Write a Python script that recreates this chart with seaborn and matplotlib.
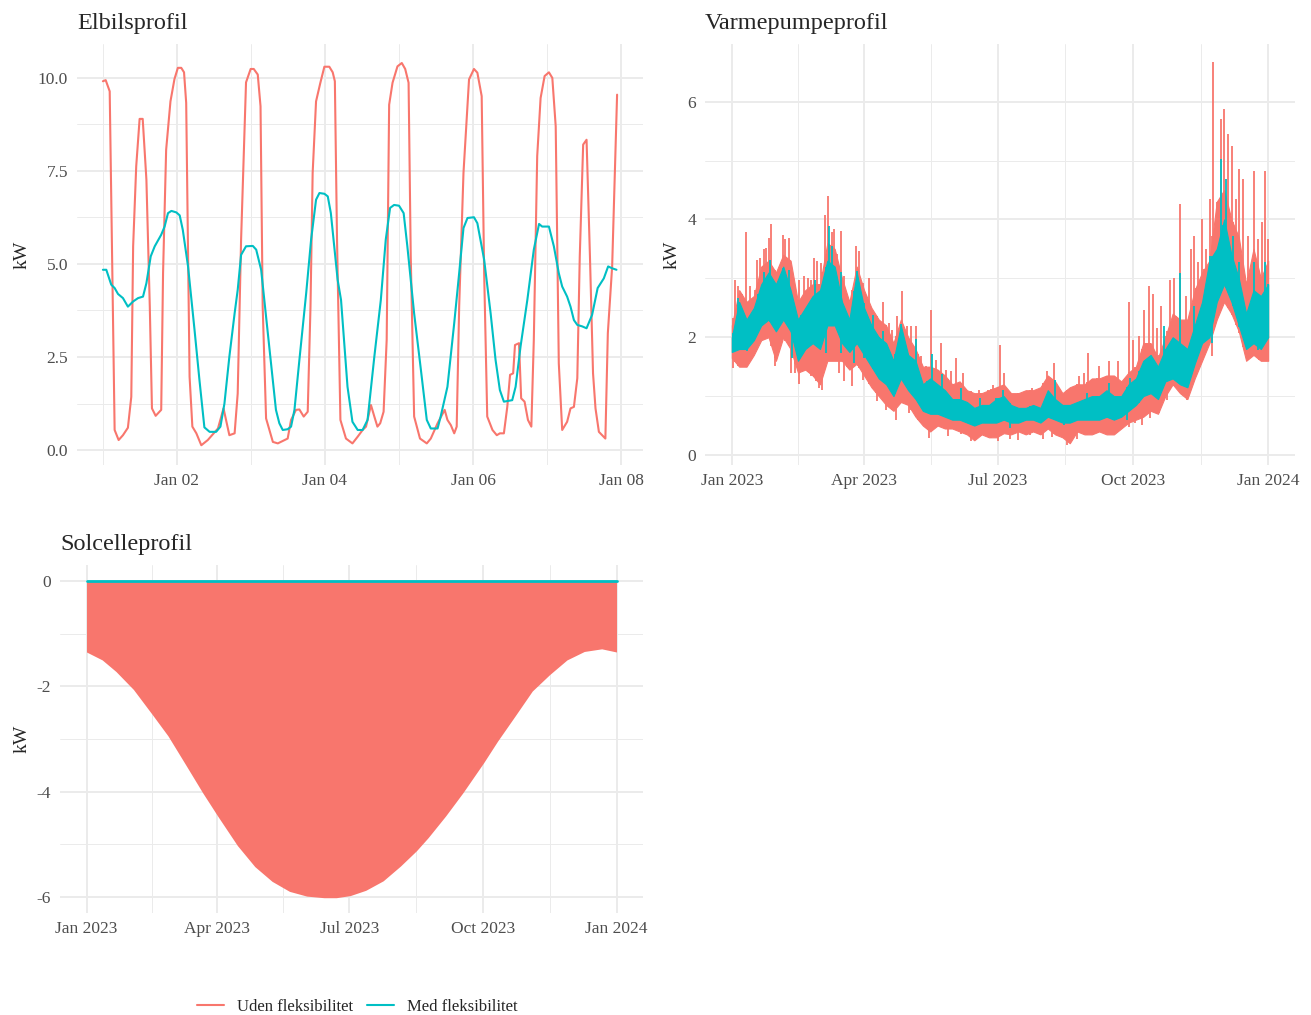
import numpy as np
import pandas as pd
import matplotlib
matplotlib.use("Agg")
import matplotlib.pyplot as plt
import matplotlib.dates as mdates
from matplotlib.lines import Line2D
import seaborn as sns

RED = "#F8766D"
TEAL = "#00BFC4"
GRID = "#EBEBEB"

# ---------------- Elbil: timer fra 1. jan 00:00 ----------------
elbil_uden_t = [0.0, 0.9, 2.2, 3.8, 5.1, 6.5, 8.1, 9.2, 9.8, 10.8,
                11.9, 12.9, 14.1, 15.2, 15.9, 17.1, 18.9, 19.5, 20.5, 21.9,
                23.2, 24.3, 25.4, 26.3, 27.0, 28.1, 29.0, 30.3, 31.9, 34.0,
                37.3, 39.1, 41.0, 42.7, 43.7, 44.8, 46.4, 47.9, 48.9, 50.2,
                51.1, 51.8, 52.9, 55.1, 56.7, 59.9, 61.0, 62.6, 63.7, 65.1,
                66.4, 67.3, 68.0, 69.1, 70.5, 71.8, 73.4, 74.5, 75.2, 75.9,
                77.0, 78.8, 80.9, 82.6, 84.2, 85.3, 86.9, 88.0, 89.0, 89.9,
                91.0, 92.0, 92.8, 93.9, 95.5, 96.9, 98.0, 99.1, 99.8, 100.9,
                102.8, 105.0, 106.3, 108.5, 110.8, 111.7, 112.8, 113.9, 114.7, 115.5,
                116.9, 118.7, 120.3, 121.4, 122.8, 123.6, 124.6, 126.3, 127.7, 128.7,
                130.0, 131.1, 132.0, 133.0, 133.6, 134.9, 135.6, 136.7, 137.8, 138.9,
                139.7, 140.8, 141.9, 143.2, 144.6, 145.7, 146.8, 147.8, 148.9, 150.5,
                151.6, 152.7, 153.8, 154.6, 155.7, 156.8, 157.9, 158.9, 159.7, 160.8,
                162.9, 163.7, 165.1, 166.7]
elbil_uden_kw = [9.90, 9.93, 9.63, 0.54, 0.27, 0.40, 0.60, 1.43, 5.47, 7.62,
                 8.89, 8.89, 7.26, 3.85, 1.12, 0.92, 1.08, 4.75, 8.06, 9.36,
                 9.96, 10.26, 10.26, 10.14, 9.32, 1.97, 0.63, 0.45, 0.13, 0.27,
                 0.58, 1.12, 0.40, 0.45, 1.52, 5.65, 9.87, 10.23, 10.23, 10.08,
                 9.23, 3.85, 0.85, 0.22, 0.18, 0.31, 0.81, 1.08, 1.09, 0.90,
                 1.03, 3.85, 7.44, 9.36, 9.86, 10.29, 10.29, 10.14, 9.90, 5.65,
                 0.81, 0.31, 0.18, 0.36, 0.54, 0.63, 1.21, 0.90, 0.63, 0.72,
                 1.03, 2.96, 9.27, 9.86, 10.30, 10.39, 10.23, 9.86, 5.20, 0.90,
                 0.31, 0.18, 0.31, 0.72, 1.08, 0.81, 0.67, 0.45, 0.63, 3.85,
                 7.44, 9.95, 10.23, 10.13, 9.50, 4.75, 0.90, 0.54, 0.40, 0.45,
                 0.45, 1.16, 2.02, 2.06, 2.82, 2.87, 1.39, 1.30, 0.81, 0.63,
                 2.96, 7.89, 9.45, 10.04, 10.14, 9.99, 8.69, 2.33, 0.54, 0.76,
                 1.12, 1.16, 1.93, 5.20, 8.20, 8.33, 5.20, 2.06, 1.12, 0.49,
                 0.31, 3.14, 4.93, 9.54]

elbil_med_t = [0.0, 1.1, 2.7, 3.8, 4.9, 6.5, 8.1, 9.8, 11.4, 13.0,
               14.1, 15.5, 16.8, 18.9, 20.0, 21.1, 22.2, 23.8, 24.9, 25.9,
               27.6, 29.7, 31.3, 32.9, 34.6, 36.7, 38.1, 39.4, 41.0, 42.7,
               43.7, 44.8, 46.4, 48.6, 49.7, 51.3, 52.9, 54.5, 56.1, 57.2,
               58.3, 59.9, 61.0, 62.1, 63.7, 65.9, 67.5, 69.1, 70.2, 71.8,
               72.9, 73.9, 76.1,
               77.2, 79.3, 80.9, 82.6, 84.2, 85.8, 88.0, 90.1, 91.7, 93.1,
               94.4, 96.0, 97.5, 98.7, 100.9, 103.1, 105.0, 106.3, 108.5, 109.5,
               111.7, 113.9, 115.5, 116.9, 118.2, 120.3, 121.4, 123.6, 125.7, 127.3,
               128.7, 130.0, 132.7, 133.8, 135.4, 137.6, 139.7, 141.4, 142.4, 144.6,
               146.2, 147.8, 148.9, 150.5, 151.6, 152.7, 153.8, 155.4, 156.8, 158.6,
               160.4, 162.4, 163.8, 165.1, 166.5]
elbil_med_kw = [4.84, 4.84, 4.44, 4.35, 4.19, 4.08, 3.85, 3.99, 4.08, 4.12,
                4.48, 5.20, 5.47, 5.78, 6.00, 6.36, 6.42, 6.38, 6.30, 5.91,
                4.93, 3.23, 1.88, 0.61, 0.49, 0.49, 0.63, 1.25, 2.51, 3.67,
                4.30, 5.24, 5.47, 5.48, 5.38, 4.84, 3.58, 2.33, 1.08, 0.72,
                0.54, 0.56, 0.63, 1.08, 2.42, 4.21, 5.65, 6.72, 6.90, 6.88,
                6.81, 6.36, 4.57,
                4.03, 1.70, 0.76, 0.54, 0.54, 0.81, 2.51, 4.03, 5.65, 6.50,
                6.58, 6.56, 6.36, 5.47, 3.67, 2.15, 0.81, 0.58, 0.58, 0.90,
                1.70, 3.41, 4.75, 5.96, 6.23, 6.25, 6.09, 5.11, 3.67, 2.42,
                1.61, 1.30, 1.34, 1.70, 2.78, 4.03, 5.38, 6.07, 6.00, 6.00,
                5.47, 4.75, 4.39, 4.12, 3.85, 3.49, 3.36, 3.32, 3.27, 3.63,
                4.35, 4.61, 4.93, 4.88, 4.84]

# ---------------- Varmepumpe: aflæst bånd pr. 5. dag ----------------
vp_dag = list(range(0, 366, 5))
vp_uden_hoej = [2.2, 2.8, 2.6, 2.7, 3.2, 3.3, 3.1, 3.4, 3.3, 2.6,
                2.8, 2.9, 2.9, 3.6, 3.5, 3.0, 2.6, 3.2, 2.8, 2.5,
                2.3, 2.2, 1.9, 2.3, 2.0, 1.8, 1.5, 1.5, 1.45, 1.35,
                1.2, 1.25, 1.1, 1.05, 1.05, 1.1, 1.15, 1.2, 1.05, 1.05,
                1.1, 1.1, 1.15, 1.35, 1.25, 1.05, 1.15, 1.2, 1.2, 1.3,
                1.3, 1.35, 1.35, 1.25, 1.4, 1.5, 1.9, 1.9, 1.65, 2.0,
                2.4, 2.3, 2.3, 2.8, 3.1, 3.3, 4.3, 4.5, 4.0, 3.7,
                2.9, 3.5, 3.0, 3.3]
vp_uden_lav = [1.65, 1.5, 1.5, 1.7, 1.95, 2.0, 1.6, 2.0, 1.8, 1.4,
               1.45, 1.35, 1.2, 1.6, 1.6, 1.6, 1.45, 1.55, 1.35, 1.15,
               1.0, 0.85, 0.75, 0.9, 0.85, 0.65, 0.5, 0.4, 0.5, 0.45,
               0.45, 0.4, 0.35, 0.25, 0.35, 0.3, 0.3, 0.37, 0.35, 0.4,
               0.35, 0.4, 0.35, 0.45, 0.35, 0.3, 0.2, 0.4, 0.35, 0.35,
               0.4, 0.35, 0.35, 0.45, 0.55, 0.6, 0.65, 0.75, 0.7, 1.0,
               1.2, 1.05, 0.95, 1.3, 1.6, 1.9, 2.3, 2.6, 2.4, 2.1,
               1.6, 1.7, 1.6, 1.6]
vp_med_hoej = [2.0, 2.6, 2.3, 2.5, 2.9, 3.1, 2.9, 3.2, 2.8, 2.3,
               2.5, 2.7, 2.8, 3.3, 3.2, 2.6, 2.3, 3.1, 2.5, 2.2,
               2.0, 1.9, 1.6, 2.2, 1.7, 1.6, 1.2, 1.3, 1.2, 1.1,
               0.95, 0.95, 0.9, 0.8, 0.85, 0.85, 0.95, 1.0, 0.85, 0.8,
               0.8, 0.85, 0.8, 1.1, 0.95, 0.85, 0.85, 0.9, 0.95, 1.0,
               1.0, 1.1, 1.0, 1.0, 1.2, 1.3, 1.6, 1.7, 1.5, 1.8,
               2.0, 1.9, 1.8, 2.2, 2.6, 3.3, 3.5, 4.0, 3.4, 3.0,
               2.4, 2.8, 2.7, 2.9]
vp_med_lav = [1.75, 1.8, 1.8, 1.95, 2.2, 2.3, 2.1, 2.3, 2.1, 1.6,
              1.8, 1.9, 1.8, 2.2, 2.2, 1.9, 1.75, 1.9, 1.7, 1.5,
              1.3, 1.2, 1.0, 1.3, 1.1, 0.95, 0.75, 0.7, 0.7, 0.65,
              0.6, 0.6, 0.55, 0.5, 0.55, 0.55, 0.55, 0.6, 0.55, 0.55,
              0.6, 0.6, 0.55, 0.65, 0.6, 0.55, 0.55, 0.6, 0.6, 0.6,
              0.6, 0.65, 0.6, 0.65, 0.75, 0.85, 1.0, 1.05, 0.95, 1.25,
              1.3, 1.2, 1.15, 1.55, 1.9, 2.0, 2.6, 2.9, 2.6, 2.2,
              1.8, 1.9, 1.8, 2.0]

# spidser over og dyk under båndet (dag, kW)
uden_top_dag = [2.3, 4.5, 9.8, 12.5, 17.1, 19.4, 21.6, 23.2, 25.0, 26.8, 29.5, 31.8, 34.6, 36.4,
                38.7, 41.0, 43.2, 46.0, 49.0, 52.0, 54.2, 55.8, 58.1, 60.4, 63.3, 65.6, 67.9,
                69.5, 71.8, 74.1, 76.4, 78.7, 82.1, 84.8, 86.7, 89.4, 93.4, 98.0, 103.0, 107.0,
                109.2, 112.6, 116.0, 119.5, 122.0, 125.0, 128.5, 131.9, 135.8, 138.7, 142.1,
                145.5, 149.0, 152.4, 157.0, 162.7, 168.4, 174.1, 177.5, 182.4, 185.1, 199.5,
                204.0, 208.6, 214.3, 219.3, 232.5, 236.0, 239.4, 242.1, 246.2, 249.6, 253.0,
                256.5, 259.9, 262.6, 267.9, 270.6, 272.9, 277.0, 280.4, 283.8, 286.5, 289.5,
                291.8, 295.2, 297.9, 300.9, 304.8, 308.9, 312.3, 314.6, 317.5, 320.3, 323.0,
                325.5, 327.6, 330.5, 332.8, 335.1, 337.4, 340.3, 343.1, 344.9, 347.6, 351.0,
                355.6, 357.9, 360.9, 363.1, 364.7]
uden_top_kw = [2.98, 2.87, 3.78, 2.87, 3.32, 3.35, 3.49, 3.52, 3.69, 3.92, 3.10, 3.15, 3.74, 3.67,
               3.68, 3.10, 2.42, 2.98, 3.04, 3.01, 2.98, 3.35, 3.29, 3.26, 4.08, 4.40, 3.78,
               3.83, 3.41, 3.80, 3.04, 2.53, 2.64, 3.55, 3.46, 2.92, 3.01, 2.25, 2.59, 2.25,
               2.13, 2.36, 2.78, 2.19, 2.19, 2.19, 1.68, 1.51, 2.47, 1.62, 1.90,
               1.45, 1.42, 1.65, 1.39, 1.08, 1.11, 1.11, 1.19, 1.87, 1.39, 1.05,
               1.14, 1.05, 1.42, 1.56, 1.11, 1.34, 1.39, 1.73, 1.22, 1.51, 1.28,
               1.59, 1.34, 1.59, 1.28, 2.59, 1.96, 2.02, 2.47, 2.87, 2.73, 2.16,
               2.53, 2.02, 2.98, 3.01, 4.26, 2.70, 3.49, 3.72, 3.27, 4.00, 3.49,
               4.34, 6.68, 4.29, 5.71, 5.88, 5.45, 5.25, 4.34, 4.86, 4.68, 3.72,
               4.83, 3.66, 3.95, 4.83, 3.66]
uden_dyk_dag = [1.1, 6.8, 10.3, 16.0, 29.1, 40.5, 43.2, 46.0, 49.7, 54.2, 57.4, 59.2, 61.5, 68.3,
                72.9, 76.4, 81.7, 85.6, 89.0, 93.4, 98.6, 104.8, 111.6, 120.7, 126.4, 134.4,
                140.0, 146.9, 156.0, 162.7, 169.6, 176.4, 181.0, 189.2, 195.0, 202.9, 212.0,
                217.7, 228.0, 234.8, 241.7, 248.5, 255.3, 262.2, 270.2, 274.7, 278.8, 284.3,
                290.6, 296.3, 302.0, 310.0, 315.7, 321.4, 327.1, 332.8, 340.8, 345.4, 351.0,
                359.0, 365.0]
uden_dyk_kw = [1.48, 1.51, 1.54, 1.79, 1.51, 1.39, 1.39, 1.20, 1.51, 1.34, 1.25, 1.14, 1.11, 1.59,
               1.39, 1.25, 1.17, 1.51, 1.28, 1.28, 0.91, 0.77, 0.60, 0.71, 0.60, 0.29,
               0.55, 0.32, 0.35, 0.24, 0.32, 0.29, 0.24, 0.28, 0.26, 0.34, 0.28,
               0.31, 0.17, 0.28, 0.34, 0.37, 0.40, 0.45, 0.48, 0.54, 0.51, 0.62,
               0.71, 0.94, 1.42, 0.94, 1.45, 1.90, 1.68, 2.75, 2.41, 2.07, 1.62,
               1.62, 1.65]
med_top_dag = [4.5, 22.0, 26.0, 35.0, 38.7, 56.5, 66.0, 68.0, 74.0, 85.0, 90.0, 96.0, 103.0,
               115.0, 125.0, 136.0, 143.0, 156.0, 169.0, 180.0, 184.7, 220.0, 241.7, 256.5,
               271.0, 279.0, 294.0, 305.0, 314.6, 325.3, 332.8, 336.0, 340.8, 345.4, 355.6, 363.0]
med_top_kw = [2.67, 3.10, 3.32, 3.18, 3.15, 2.98, 3.89, 3.55, 3.10, 3.12, 2.58, 2.38, 2.10,
              2.22, 1.97, 1.71, 1.37, 1.14, 0.97, 0.97, 1.11, 1.28, 1.05, 1.22,
              1.31, 1.45, 2.19, 3.09, 2.53, 3.38, 5.03, 4.68, 3.72, 3.27, 3.27, 3.27]
med_dyk_dag = [0.6, 10.0, 18.0, 41.0, 47.0, 64.0, 74.0, 83.0, 90.0, 100.0, 111.0, 133.0, 144.0,
               156.0, 172.0, 181.0, 189.0, 203.0, 226.0, 248.5, 269.0, 277.0, 295.0, 310.0,
               327.0, 334.0, 350.0, 358.0, 365.0]
med_dyk_kw = [1.80, 1.77, 2.16, 1.65, 1.77, 1.74, 1.74, 1.57, 1.65, 1.31, 1.03, 0.86, 0.74,
              0.68, 0.57, 0.60, 0.45, 0.60, 0.51, 0.62, 0.60, 0.88, 1.25, 1.22,
              1.90, 2.87, 1.85, 1.79, 2.07]

# ---------------- Solceller ----------------
sol_dag = [0, 10.8, 20.3, 32.3, 45.4, 56.1, 68.1, 80.0, 90.3, 103.9, 115.9, 127.8, 139.8,
           151.7, 163.6, 172.0, 181.6, 192.3, 204.3, 216.2, 227.2, 235.3, 247.3, 259.2,
           273.5, 283.1, 295.0, 307.0, 318.9, 330.9, 342.8, 354.8, 365.0]
sol_uden = [-1.35, -1.50, -1.72, -2.06, -2.54, -2.94, -3.48, -4.02, -4.46, -5.02, -5.42, -5.70,
            -5.89, -5.98, -6.01, -6.01, -5.97, -5.87, -5.69, -5.41, -5.12, -4.87, -4.46,
            -4.02, -3.45, -3.04, -2.57, -2.09, -1.78, -1.50, -1.34, -1.29, -1.35]
sol_med = [0.0] * len(sol_dag)

labels = ["Uden fleksibilitet", "Med fleksibilitet"]

sns.set_style("white")
plt.rcParams['font.family'] = ['Liberation Serif', 'DejaVu Serif']
plt.rcParams['axes.unicode_minus'] = False

fig = plt.figure(figsize=(13.11, 10.15), dpi=100)
W, H = 1311, 1015


def panel(l, t, r, b):
    return fig.add_axes([l / W, 1 - b / H, (r - l) / W, (b - t) / H])


def style(ax, title, label_x):
    for s in ax.spines.values():
        s.set_visible(False)
    ax.set_axisbelow(True)
    ax.grid(which='major', color=GRID, lw=1.4)
    ax.grid(which='minor', color=GRID, lw=0.7)
    ax.tick_params(which='both', length=0, labelsize=12.5, labelcolor='#4D4D4D')
    ax.tick_params(axis='y', pad=6.5)
    ax.tick_params(axis='x', pad=6)
    ax.set_title(title, loc='left', fontsize=17.5, pad=11)
    ax.set_xlabel('')
    ax.set_ylabel('kW', fontsize=14)
    ax.yaxis.set_label_coords(label_x, 0.5)


def to_num(days):
    return mdates.date2num((start + pd.to_timedelta(days, unit='D')).to_pydatetime())


start = pd.Timestamp('2023-01-01')
q = [pd.Timestamp(d) for d in ['2023-01-01', '2023-04-01', '2023-07-01', '2023-10-01', '2024-01-01']]
qn = mdates.date2num(q)
q_minor = [(a + b) / 2 for a, b in zip(qn[:-1], qn[1:])]

# Elbil
ax1 = panel(77, 44, 643, 465)
df_el = pd.concat([
    pd.DataFrame({'tid': start + pd.to_timedelta(elbil_uden_t, unit='h'),
                  'kW': elbil_uden_kw, 'profil': labels[0]}),
    pd.DataFrame({'tid': start + pd.to_timedelta(elbil_med_t, unit='h'),
                  'kW': elbil_med_kw, 'profil': labels[1]}),
])
sns.lineplot(data=df_el, x='tid', y='kW', hue='profil', palette=[RED, TEAL],
             estimator=None, lw=1.5, legend=False, ax=ax1)
ax1.set_xlim(start - pd.Timedelta(hours=8.4), start + pd.Timedelta(hours=175.1))
ax1.set_ylim(-0.40, 10.90)
ax1.set_yticks([0, 2.5, 5, 7.5, 10])
ax1.set_yticklabels(['0.0', '2.5', '5.0', '7.5', '10.0'])
ax1.set_yticks([1.25, 3.75, 6.25, 8.75], minor=True)
ax1.xaxis.set_major_locator(mdates.DayLocator(bymonthday=[2, 4, 6, 8]))
ax1.xaxis.set_major_formatter(mdates.DateFormatter('%b %d'))
ax1.xaxis.set_minor_locator(mdates.DayLocator(bymonthday=[1, 3, 5, 7]))
style(ax1, 'Elbilsprofil', -0.082)

# Varmepumpe
ax2 = panel(705, 44, 1295, 465)
vp_x = to_num(vp_dag)
ax2.fill_between(vp_x, vp_uden_lav, vp_uden_hoej, color=RED, lw=0.8, edgecolor=RED, zorder=2)
ax2.vlines(to_num(uden_top_dag), np.interp(uden_top_dag, vp_dag, vp_uden_lav), uden_top_kw,
           color=RED, lw=1.3, zorder=2.1)
ax2.vlines(to_num(uden_dyk_dag), uden_dyk_kw, np.interp(uden_dyk_dag, vp_dag, vp_uden_hoej),
           color=RED, lw=1.3, zorder=2.1)
ax2.fill_between(vp_x, vp_med_lav, vp_med_hoej, color=TEAL, lw=0.8, edgecolor=TEAL, zorder=2.2)
ax2.vlines(to_num(med_top_dag), np.interp(med_top_dag, vp_dag, vp_med_lav), med_top_kw,
           color=TEAL, lw=1.3, zorder=2.3)
ax2.vlines(to_num(med_dyk_dag), med_dyk_kw, np.interp(med_dyk_dag, vp_dag, vp_med_hoej),
           color=TEAL, lw=1.3, zorder=2.3)
ax2.set_xlim(vp_x[0] - 18.25, vp_x[-1] + 18.25)
ax2.set_ylim(-0.17, 6.98)
ax2.set_yticks([0, 2, 4, 6])
ax2.set_yticks([1, 3, 5], minor=True)
ax2.set_xticks(qn)
ax2.set_xticklabels([d.strftime('%b %Y') for d in q])
ax2.set_xticks(q_minor, minor=True)
style(ax2, 'Varmepumpeprofil', -0.041)

# Solceller
ax3 = panel(60, 565, 643, 913)
sol_x = to_num(sol_dag)
ax3.fill_between(sol_x, sol_uden, 0, color=RED, lw=0)
sns.lineplot(x=sol_x, y=sol_med, color=TEAL, lw=2.0, ax=ax3)
ax3.set_xlim(sol_x[0] - 18.25, sol_x[-1] + 18.25)
ax3.set_ylim(-6.3, 0.3)
ax3.set_yticks([0, -2, -4, -6])
ax3.set_yticks([-1, -3, -5], minor=True)
ax3.set_xticks(qn)
ax3.set_xticklabels([d.strftime('%b %Y') for d in q])
ax3.set_xticks(q_minor, minor=True)
style(ax3, 'Solcelleprofil', -0.050)

handles = [Line2D([], [], color=RED, lw=1.5), Line2D([], [], color=TEAL, lw=1.5)]
fig.legend(handles, labels, loc='center', bbox_to_anchor=(357.5 / W, 1 - 1007 / H),
           ncol=2, frameon=False, fontsize=12, handlelength=1.6,
           handletextpad=0.8, columnspacing=0.8)

fig.savefig('out.png', dpi=100)
